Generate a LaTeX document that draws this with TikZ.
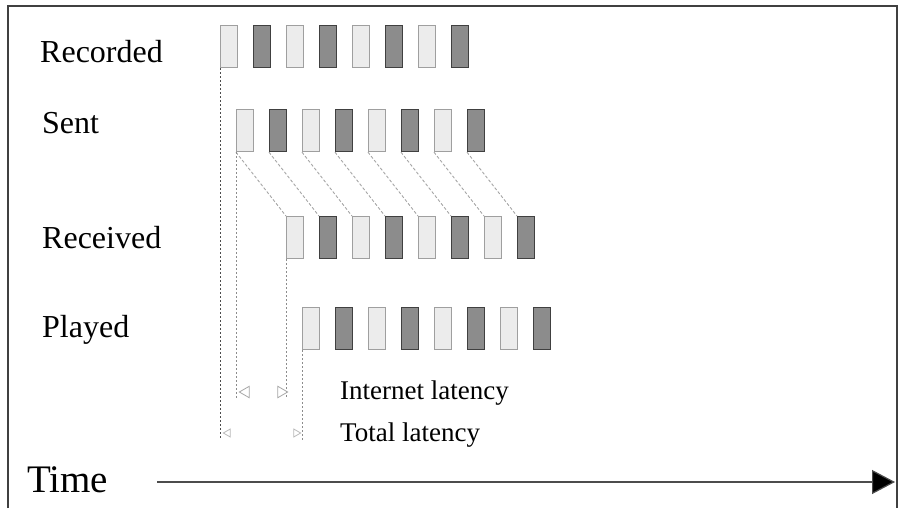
\documentclass[tikz,border=0pt]{standalone}
\usepackage{fontspec}
\setmainfont{Liberation Serif}
\usetikzlibrary{shapes.geometric,arrows.meta}
\begin{document}
\begin{tikzpicture}[x=1pt,y=-1pt,
  pkt/.style={line width=1.2pt, minimum width=17pt, minimum height=42pt, inner sep=0pt, anchor=north west},
  lightpkt/.style={pkt, draw=gray!75, fill=gray!15},
  darkpkt/.style={pkt, draw=black!75, fill=gray!90},
  lbl/.style={anchor=base west, inner sep=0pt, font=\fontsize{32}{36}\selectfont},
  small/.style={anchor=base west, inner sep=0pt, font=\fontsize{27}{30}\selectfont},
  guide/.style={draw=gray!90, line width=1pt, dash pattern=on 2pt off 2pt},
  diag/.style={draw=gray!70, line width=0.9pt, dash pattern=on 3pt off 2pt},
  tri/.style={isosceles triangle, isosceles triangle apex angle=60, draw=gray!70, line width=0.8pt, inner sep=0pt, minimum height=10pt, minimum width=11pt},
  ]
\useasboundingbox (0,0) rectangle (901,508);
% frame
\draw[line width=1.2pt, draw=black!75] (8,508) -- (8,6) -- (897,6) -- (897,508);

% labels
\node[lbl] (lrec) at (40,63) {Recorded};
\node[lbl] (lsnt) at (42,133) {Sent};
\node[lbl] (lrcv) at (42,248) {Received};
\node[lbl] (lply) at (42,337) {Played};

% packets
\foreach \i in {1,3,5,7} {
  \node[lightpkt] (rec\i) at ({220+(\i-1)*33},25) {};
  \node[lightpkt] (snt\i) at ({236+(\i-1)*33},109) {};
  \node[lightpkt] (rcv\i) at ({286+(\i-1)*33},216) {};
  \node[lightpkt] (ply\i) at ({302+(\i-1)*33},307) {};
}
\foreach \i in {2,4,6,8} {
  \node[darkpkt] (rec\i) at ({220+(\i-1)*33},25) {};
  \node[darkpkt] (snt\i) at ({236+(\i-1)*33},109) {};
  \node[darkpkt] (rcv\i) at ({286+(\i-1)*33},216) {};
  \node[darkpkt] (ply\i) at ({302+(\i-1)*33},307) {};
}

% transmission lines
\foreach \i in {1,...,8} {
  \draw[diag] (snt\i.south west) -- (rcv\i.north west);
}

% latency levels
\coordinate (ilev) at (0,398);
\coordinate (tlev) at (0,440);
\draw[guide, draw=black!70] (rec1.south west) -- (rec1.south west |- tlev);
\draw[guide] (snt1.south west) -- (snt1.south west |- ilev);
\draw[guide] (rcv1.south west) -- (rcv1.south west |- ilev);
\draw[guide] (ply1.south west) -- (ply1.south west |- tlev);

% latency markers
\node[tri, shape border rotate=180] (il) at (246,392) {};
\node[tri] (ir) at (281,392) {};
\node[tri, shape border rotate=180, minimum height=7pt, minimum width=8pt, draw=gray!55] (tl) at (228,433) {};
\node[tri, minimum height=7pt, minimum width=8pt, draw=gray!55] (tr) at (296,433) {};

\node[small] (tint) at (340,399) {Internet latency};
\node[small] (ttot) at (340,441) {Total latency};

% time axis
\node[anchor=base west, inner sep=0pt, font=\fontsize{39}{42}\selectfont] (ltime) at (27,492) {Time};
\coordinate (tstart) at (157,482);
\coordinate (tend) at (895,482);
\draw[line width=1.2pt, draw=black!70, -{Triangle[length=23pt, width=24pt, fill=black]}] (tstart) -- (tend);
\end{tikzpicture}
\end{document}
